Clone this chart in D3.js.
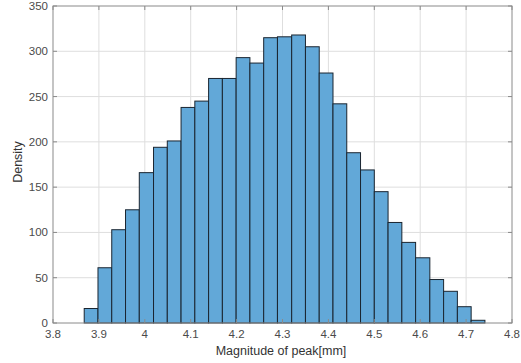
<!DOCTYPE html>
<html>
<head>
<meta charset="utf-8">
<script src="https://cdn.jsdelivr.net/npm/d3@7"></script>
<style>
  body { margin: 0; background: #fff; }
  svg { font-family: "Liberation Sans", Arial, sans-serif; }
  .grid line { stroke: #dedede; stroke-width: 1; }
  .tick-label { fill: #4a4a4a; font-size: 11.5px; }
  .axis-title { fill: #333; font-size: 12.5px; }
</style>
</head>
<body>
<svg width="521" height="363"></svg>
<script>
// bin edges (30 edges -> 29 bins)
const binEdges = [3.868, 3.898, 3.928, 3.958, 3.988, 4.019, 4.049, 4.079, 4.109, 4.139,
  4.169, 4.199, 4.229, 4.259, 4.289, 4.320, 4.350, 4.380, 4.410, 4.440,
  4.470, 4.500, 4.530, 4.560, 4.590, 4.621, 4.651, 4.681, 4.711, 4.741];
const counts = [16, 61, 103, 125, 166, 194, 201, 238, 245, 270,
  270, 293, 287, 315, 316, 318, 305, 276, 242, 188,
  169, 145, 111, 89, 72, 48, 35, 18, 3];
const xTicks = [3.8, 3.9, 4, 4.1, 4.2, 4.3, 4.4, 4.5, 4.6, 4.7, 4.8];
const yTicks = [0, 50, 100, 150, 200, 250, 300, 350];

const svg = d3.select("svg");
const plotL = 53, plotR = 512, plotT = 6, plotB = 323;

const x = d3.scaleLinear().domain([3.8, 4.8]).range([plotL, plotR]);
const y = d3.scaleLinear().domain([0, 350]).range([plotB, plotT]);
const fmt = d3.format("");

// grid
const grid = svg.append("g").attr("class", "grid");
grid.selectAll(".gx").data(xTicks.slice(1, -1)).enter().append("line")
  .attr("x1", d => x(d)).attr("x2", d => x(d))
  .attr("y1", plotT).attr("y2", plotB);
grid.selectAll(".gy").data(yTicks.slice(1, -1)).enter().append("line")
  .attr("x1", plotL).attr("x2", plotR)
  .attr("y1", d => y(d)).attr("y2", d => y(d));

// bars
const bins = counts.map((c, i) => ({ x0: binEdges[i], x1: binEdges[i + 1], n: c }));
svg.append("g").selectAll("rect").data(bins).enter().append("rect")
  .attr("x", d => x(d.x0))
  .attr("y", d => y(d.n))
  .attr("width", d => x(d.x1) - x(d.x0))
  .attr("height", d => y(0) - y(d.n))
  .attr("fill", "#62a8d8")
  .attr("stroke", "#1a2530")
  .attr("stroke-width", 1);

// box
svg.append("rect")
  .attr("x", plotL).attr("y", plotT)
  .attr("width", plotR - plotL).attr("height", plotB - plotT)
  .attr("fill", "none").attr("stroke", "#8a8a8a").attr("stroke-width", 1);

// inward ticks on all four sides
const ticks = svg.append("g").attr("stroke", "#8a8a8a");
xTicks.forEach(t => {
  ticks.append("line").attr("x1", x(t)).attr("x2", x(t)).attr("y1", plotB).attr("y2", plotB - 4);
  ticks.append("line").attr("x1", x(t)).attr("x2", x(t)).attr("y1", plotT).attr("y2", plotT + 4);
});
yTicks.forEach(t => {
  ticks.append("line").attr("x1", plotL).attr("x2", plotL + 4).attr("y1", y(t)).attr("y2", y(t));
  ticks.append("line").attr("x1", plotR).attr("x2", plotR - 4).attr("y1", y(t)).attr("y2", y(t));
});

// tick labels
svg.append("g").selectAll("text").data(xTicks).enter().append("text")
  .attr("class", "tick-label")
  .attr("x", d => x(d)).attr("y", plotB + 15)
  .attr("text-anchor", "middle")
  .text(d => fmt(d));
svg.append("g").selectAll("text").data(yTicks).enter().append("text")
  .attr("class", "tick-label")
  .attr("x", plotL - 5).attr("y", d => y(d) + 4)
  .attr("text-anchor", "end")
  .text(d => fmt(d));

// axis titles
svg.append("text").attr("class", "axis-title")
  .attr("x", 281).attr("y", 355)
  .attr("text-anchor", "middle")
  .text("Magnitude of peak[mm]");
svg.append("text").attr("class", "axis-title")
  .attr("transform", "translate(22,162) rotate(-90)")
  .attr("text-anchor", "middle")
  .text("Density");
</script>
</body>
</html>
